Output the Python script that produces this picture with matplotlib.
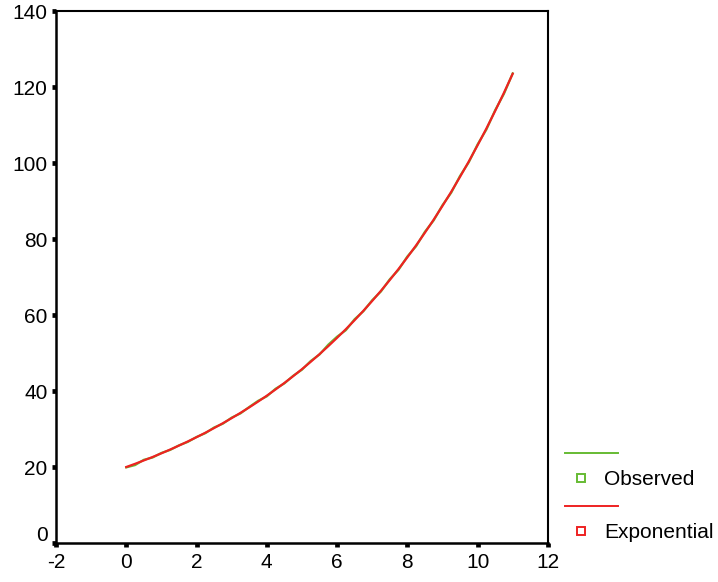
import numpy as np
import matplotlib.pyplot as plt
import matplotlib.transforms as mtransforms
from matplotlib.lines import Line2D

plt.rcParams['font.family'] = ['Liberation Sans', 'DejaVu Sans']
plt.rcParams['axes.unicode_minus'] = False

# x values (step 0.25) and the two series
x_vals = [0, 0.25, 0.5, 0.75, 1, 1.25, 1.5, 1.75, 2, 2.25, 2.5, 2.75, 3, 3.25,
          3.5, 3.75, 4, 4.25, 4.5, 4.75, 5, 5.25, 5.5, 5.75, 6, 6.25, 6.5, 6.75,
          7, 7.25, 7.5, 7.75, 8, 8.25, 8.5, 8.75, 9, 9.25, 9.5, 9.75, 10, 10.25,
          10.5, 10.75, 11]
observed = [19.9, 20.5, 21.9, 22.5, 23.7, 24.5, 25.7, 26.6, 27.9, 28.9, 30.4,
            31.4, 33.0, 34.1, 35.8, 37.4, 38.6, 40.6, 42.0, 44.0, 45.6, 47.9,
            49.6, 52.2, 54.3, 56.0, 58.9, 61.0, 63.9, 66.2, 69.4, 71.9, 75.4,
            78.1, 81.9, 84.9, 88.9, 92.2, 96.6, 100.2, 104.9, 108.8, 113.9,
            118.2, 123.6]
exponential = [20.00, 20.84, 21.73, 22.64, 23.60, 24.60, 25.64, 26.72, 27.85,
               29.02, 30.25, 31.53, 32.86, 34.25, 35.69, 37.20, 38.77, 40.41,
               42.12, 43.90, 45.75, 47.68, 49.70, 51.80, 53.99, 56.27, 58.64,
               61.12, 63.70, 66.39, 69.20, 72.12, 75.17, 78.34, 81.65, 85.10,
               88.70, 92.44, 96.35, 100.42, 104.66, 109.08, 113.69, 118.49, 123.50]
x_ticks = [-2, 0, 2, 4, 6, 8, 10, 12]
y_ticks = [0, 20, 40, 60, 80, 100, 120, 140]

green = '#66bb33'
red = '#ee2222'
fs = 15

fig = plt.figure(figsize=(7.18, 5.82), dpi=100)
ax = fig.add_axes([0.078, 0.067, 0.685, 0.914])

ax.plot(x_vals, observed, color=green, lw=1.6)
ax.plot(x_vals, exponential, color=red, lw=1.6)

ax.set_xlim(-2, 12)
ax.set_ylim(0, 140)
ax.set_xticks(x_ticks)
ax.set_yticks(y_ticks)
ax.tick_params(labelsize=fs, length=3.2, width=3.4, direction='out', pad=3,
               top=False, right=False)
ax.tick_params(axis='x', pad=4)
for s in ['left', 'bottom']:
    ax.spines[s].set_linewidth(1.8)
for s in ['top', 'right']:
    ax.spines[s].set_linewidth(1.5)

# the "0" label on the y axis sits a bit higher than its tick
lab0 = ax.yaxis.get_major_ticks()[0].label1
lab0.set_transform(lab0.get_transform() +
                   mtransforms.ScaledTranslation(0, 10 / 100, fig.dpi_scale_trans))

# legend outside on the right: line row, then marker + text row
tf = fig.transFigure
fig.add_artist(Line2D([0.787, 0.861], [0.2216, 0.2216], color=green, lw=1.4, transform=tf))
fig.add_artist(Line2D([0.809], [0.1787], marker='s', ms=6, mfc='none', mec=green,
                      mew=1.4, ls='none', transform=tf))
fig.text(0.841, 0.1760, 'Observed', fontsize=fs, va='center', ha='left')
fig.add_artist(Line2D([0.787, 0.861], [0.1306, 0.1306], color=red, lw=1.4, transform=tf))
fig.add_artist(Line2D([0.809], [0.0876], marker='s', ms=6, mfc='none', mec=red,
                      mew=1.4, ls='none', transform=tf))
fig.text(0.841, 0.0850, 'Exponential', fontsize=fs, va='center', ha='left')

fig.savefig('out.png', dpi=100)
